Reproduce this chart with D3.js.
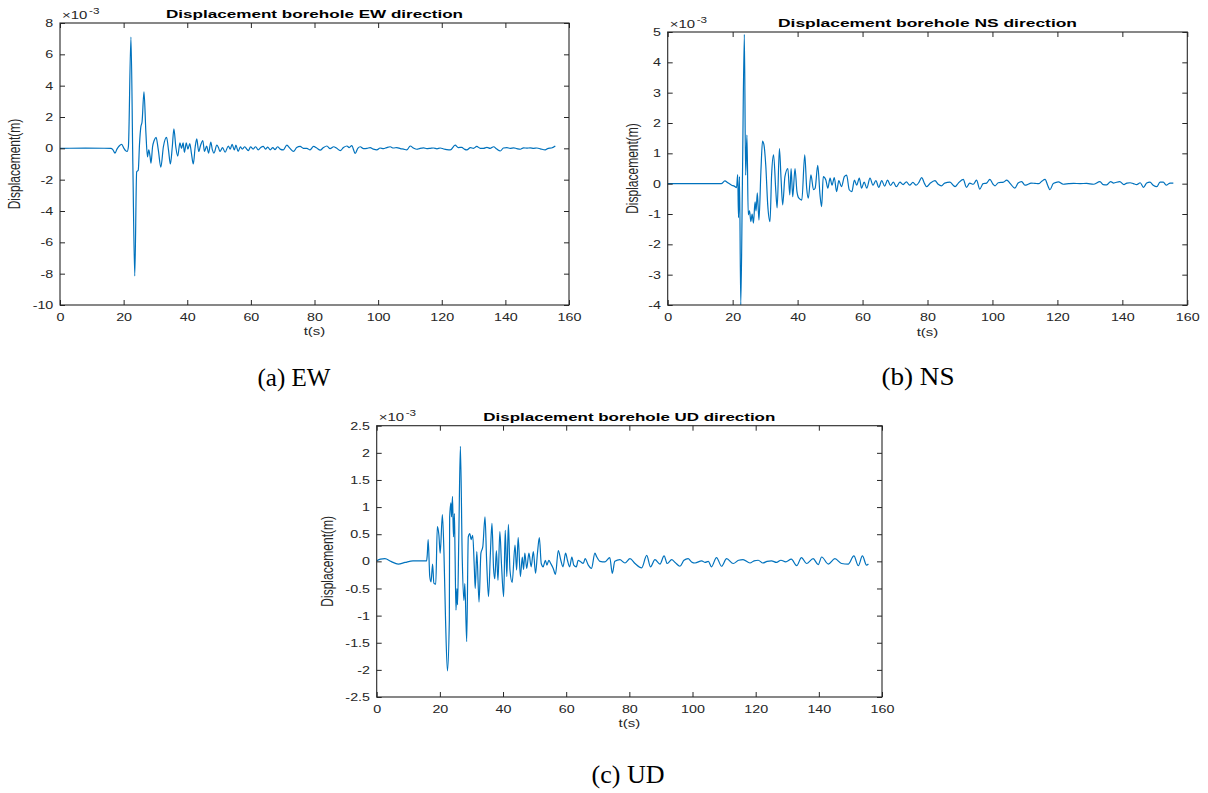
<!DOCTYPE html>
<html>
<head>
<meta charset="utf-8">
<script src="https://cdn.jsdelivr.net/npm/d3@7"></script>
<style>
  body { margin: 0; background: #fff; }
  svg { display: block; }
</style>
</head>
<body>
<svg id="fig" width="1208" height="793"></svg>
<script>
// each point: [t (s), displacement (x1e-3 m)]
var ewSeries = [
  [0,0],[8,0.01],[16,0],[16.6,-0.08],[17.3,-0.3],[17.9,-0.05],[18.6,0.15],[19.4,0.25],[20.1,0],[20.6,-0.15],
  [21.1,-0.2],[21.5,0.1],[22.3,7.1],[22.9,-1],[23.5,-8.15],[24.1,-1.5],[24.6,-1.4],[25.0,0.3],[25.4,1.35],[25.8,1.7],
  [26.4,3.6],[27.0,1.0],[27.5,-0.55],[27.9,-0.1],[28.3,-0.5],[28.6,-0.95],[29.1,0.1],[29.6,0.5],[30.2,0.7],[30.9,-0.1],
  [31.7,-1.2],[32.5,0.1],[33.5,0.7],[34.1,-0.1],[34.7,-1.0],[35.3,0.1],[35.8,1.25],[36.4,0.1],[37,-0.5],[37.7,0.35],
  [38.2,0],[38.7,0.35],[39.1,-0.25],[39.7,0.35],[40.2,-0.05],[40.8,0.3],[41.3,-0.3],[41.9,-1.0],[42.5,0.1],[43,0.6],
  [43.6,-0.2],[44.2,0.2],[44.9,0.5],[45.4,-0.2],[46.1,0.15],[46.7,-0.3],[47.4,0.4],[47.9,-0.1],[48.4,-0.3],[49.3,0.2],
  [49.8,0.05],[50.3,-0.2],[51.1,0.05],[51.9,-0.25],[52.9,0.15],[53.5,-0.05],[54.1,0.25],[54.8,-0.1],[55.3,0.2],[56,-0.2],
  [56.7,0.1],[57.3,-0.05],[58.1,0.1],[58.7,-0.05],[59.2,-0.15],[59.9,0.1],[60.7,-0.05],[61.5,0.1],[62.3,-0.1],[63.1,0.05],
  [63.9,0.12],[64.6,-0.05],[65.3,0.08],[66.1,-0.1],[66.9,0.05],[67.6,-0.08],[68.4,0.1],[69.2,-0.05],[70.2,-0.1],[71.3,0.2],
  [72.3,0.0],[73.4,-0.2],[74.4,0.05],[75.5,0.12],[76.5,0],[77.6,0],[78.6,-0.1],[79.7,0.12],[80.7,0.02],[81.8,-0.12],
  [82.8,0.05],[83.9,0.15],[84.9,-0.02],[86,0.1],[87,0],[88.1,-0.15],[89.1,0.05],[90.2,0.15],[90.9,0.05],[91.7,0.17],
  [92.8,-0.32],[93.6,0],[94.4,0.1],[95.4,-0.02],[96.5,0],[97.5,0.05],[98.5,-0.05],[99.6,-0.1],[100.6,0.02],[101.7,-0.02],
  [102.7,0.05],[103.8,0.1],[104.8,0.02],[105.9,0.05],[107,-0.02],[108,-0.05],[109,-0.1],[110.1,0.15],[111.1,0.02],[112.2,-0.06],
  [113.2,0],[114.3,0.03],[115.3,-0.02],[116.4,0],[117.4,0.02],[118.5,-0.03],[119.5,0.02],[120.6,-0.04],[121.6,-0.08],[122.7,-0.1],
  [124.2,0.2],[125.2,0.05],[126.3,0.06],[127.1,-0.05],[127.9,-0.1],[129,0.05],[130,0],[131,0.12],[132.1,0],[133.1,0],
  [134.2,0.06],[135.2,0],[136.3,0.1],[137.3,-0.05],[138.4,-0.17],[139.4,0.02],[140.5,0.05],[141.5,0],[142.6,0.03],[143.6,-0.02],
  [144.7,-0.06],[145.7,0.03],[146.8,0.01],[147.8,0.03],[148.9,0],[149.9,0.02],[151,-0.03],[152.5,-0.1],[153.5,0],[154.5,0.02],
  [155.7,0.15]
];
var nsSeries = [
  [0,0],[10,0],[16.5,0],[17.6,0.09],[18.5,0.03],[19.7,-0.05],[20.5,-0.08],[21.2,-0.13],[21.55,0.3],[21.8,-1.12],
  [22.1,0.23],[22.5,-4.0],[23.0,0],[23.6,4.92],[24.0,0.28],[24.4,1.6],[24.8,-1.03],[25.2,-0.9],[25.6,-1.25],[26.0,-1.0],
  [26.4,-1.3],[26.9,-0.6],[27.2,-0.9],[27.6,-0.3],[28.1,-1.2],[28.7,0.4],[29.2,1.4],[29.6,1.3],[30.2,0.6],[30.8,-0.7],
  [31.5,-1.25],[32,0.3],[32.6,0.95],[33.3,-0.26],[33.7,-0.8],[34.4,1.16],[34.9,0.18],[35.4,-0.7],[36.1,0.23],[37,0.5],
  [37.6,-0.37],[38,0.5],[38.5,-0.43],[39.2,0.5],[39.8,-0.26],[40.4,-0.48],[41.3,-0.54],[42.2,0.95],[42.8,-0.15],[43.3,-0.48],
  [44.1,0.29],[44.9,-0.2],[45.4,-0.15],[46.2,0.6],[46.9,-0.37],[47.4,-0.76],[47.9,0.23],[48.7,0.12],[49.3,-0.15],[50,0.18],
  [50.6,-0.05],[51.3,0.2],[52,-0.26],[52.7,0.1],[53.5,-0.1],[54.4,0.23],[55.1,0.28],[55.9,-0.2],[56.7,-0.26],[57.5,0.12],
  [58.2,-0.05],[59,0.18],[59.7,-0.15],[60.5,0.05],[61.3,-0.15],[62.3,0.18],[63.2,-0.05],[64.1,0.1],[65,-0.12],[65.9,0.1],
  [66.8,-0.08],[67.7,0.12],[68.6,-0.06],[69.5,0.05],[70.4,-0.1],[71.5,0.05],[72.5,-0.03],[73.5,0.06],[74.5,-0.05],[75.5,0.04],
  [76.5,-0.05],[77.4,0.05],[78.2,0.2],[79.1,0],[79.7,-0.1],[80.7,0.0],[82.3,0.1],[83.3,-0.02],[84.3,-0.07],[85.3,0.02],
  [86.9,0.05],[87.9,-0.05],[88.5,-0.1],[89.5,0.02],[91,0.14],[92,-0.12],[93,0.02],[94.1,-0.02],[95.1,0.12],[96.1,-0.18],
  [97.1,0],[98.2,0.02],[99.2,0.14],[100.2,-0.02],[100.8,-0.07],[101.8,0.03],[103.4,0.05],[104.4,0.12],[105.5,0],[106.9,-0.15],
  [107.9,0.02],[109,0.07],[110,-0.05],[110.6,-0.04],[111.9,0.02],[113.1,0.01],[114.2,0],[115.2,0.08],[116.2,0.14],[117,-0.05],
  [117.7,-0.2],[118.7,0],[119.3,0.03],[120.3,0.06],[121.8,-0.02],[123.5,0],[125,0.01],[127,0],[129,0.01],[131.1,-0.02],
  [133.1,0.07],[134.1,-0.03],[135.2,-0.04],[136.4,0.07],[137.3,0.02],[139.2,0.07],[140.5,-0.03],[141.4,0.02],[142.4,0.03],[143.4,0.0],
  [144.4,-0.03],[145.5,0.03],[146.5,-0.12],[147.5,0.02],[148.5,0.05],[149.5,-0.05],[150.6,-0.1],[151.6,0.05],[152.6,0.05],[153.5,-0.05],
  [154.7,0.02],[155.7,0.02]
];
var udSeries = [
  [0,0.01],[1.2,0.04],[2.6,0.05],[4.5,0.0],[6.8,-0.05],[9,-0.02],[11.5,0.01],[15.8,0.01],[16.0,0.11],[16.3,0.4],
  [16.8,-0.28],[17.2,-0.38],[17.7,-0.05],[18.1,-0.4],[18.7,-0.42],[19.2,0.64],[19.7,0.48],[20.1,0.15],[20.8,0.86],[21.3,0.15],
  [21.8,-1.08],[22.4,-2.02],[23,-1.08],[23.1,0.81],[23.5,1.08],[23.7,0.82],[24.0,1.2],[24.3,0.45],[24.6,0.88],[24.8,0.18],
  [25.1,-0.9],[25.4,-0.5],[25.6,-0.8],[26,0.45],[26.5,2.12],[27.1,0.02],[27.6,-0.72],[27.9,-0.41],[28.5,-1.48],[29,0.45],
  [29.5,0.51],[29.9,0.4],[30.4,0.48],[30.9,-0.1],[31.2,-0.5],[31.7,0.18],[32.4,-0.75],[33,0.15],[33.6,0.27],[34.3,0.82],
  [34.8,0.02],[35.4,-0.65],[36,0.15],[36.5,0.7],[37,-0.13],[37.4,-0.32],[37.9,0.2],[38.4,-0.35],[39,0.55],[39.5,-0.04],
  [40.2,-0.65],[40.7,0.57],[41.2,-0.28],[41.7,0.68],[42.2,-0.16],[42.9,-0.39],[43.8,0.3],[44.3,-0.16],[44.8,0.44],[45.5,-0.28],
  [46.1,0.08],[46.5,-0.15],[46.9,0.15],[47.5,-0.13],[48.2,0.15],[48.9,-0.1],[49.6,0.18],[50.3,-0.22],[50.9,0.15],[51.5,0.44],
  [52.1,-0.04],[52.7,-0.1],[53.4,0.02],[53.9,-0.07],[54.5,0.02],[55.1,-0.04],[55.9,-0.13],[56.6,-0.24],[57.5,0.2],[58.3,0.02],
  [59,-0.1],[59.8,0.15],[60.4,0.02],[61.1,-0.1],[61.8,0.08],[62.4,-0.07],[63.2,-0.1],[63.8,0.02],[64.4,0],[65.4,-0.04],
  [66,0.05],[67,-0.07],[68,-0.13],[69.1,0.15],[69.6,0.09],[70.7,0],[72.3,-0.01],[73.8,0.07],[74.6,-0.22],[75.4,0],
  [77,0.03],[78.6,-0.03],[80.2,0.05],[81.8,-0.04],[83.9,-0.12],[85.5,0.11],[86.7,-0.1],[88.1,0.03],[89.7,-0.05],[91,0.1],
  [92,-0.04],[93.4,0.03],[94.5,-0.02],[96,-0.09],[97.3,0.02],[98.6,0.05],[99.7,-0.01],[100.8,-0.03],[102.9,0.01],[104,-0.02],
  [105,0],[106,-0.1],[107.6,0.07],[109.2,-0.09],[110.8,0.05],[112.9,-0.04],[114.6,0.02],[116,0.03],[118.2,-0.03],[119.5,0.01],
  [120.8,0.02],[122.3,-0.03],[123.6,0],[125,0.01],[126.6,-0.02],[128,0.02],[129.5,-0.01],[131.3,0.04],[133,-0.08],[134.5,0.07],
  [136.1,-0.04],[138.2,0.05],[139.8,-0.06],[140.9,0.08],[143,-0.05],[145.1,0.05],[147.2,-0.04],[149.3,-0.05],[151.1,0.1],[152.5,-0.08],
  [153.8,0.1],[155.1,-0.07],[155.7,-0.05]
];

var xTicks = [0, 20, 40, 60, 80, 100, 120, 140, 160];
var ewTicks = [-10, -8, -6, -4, -2, 0, 2, 4, 6, 8];
var nsTicks = [-4, -3, -2, -1, 0, 1, 2, 3, 4, 5];
var udTicks = [-2.5, -2, -1.5, -1, -0.5, 0, 0.5, 1, 1.5, 2, 2.5];

var panels = [
  { key: "ew", series: ewSeries, yTicks: ewTicks, yDomain: [-10, 8],
    title: "Displacement borehole EW direction", caption: "(a) EW",
    x0: 60, x1: 569, y0: 23, y1: 305, titleW: 297, ylabX: 15, xlabY: 335, capX: 294, capY: 386 },
  { key: "ns", series: nsSeries, yTicks: nsTicks, yDomain: [-4, 5],
    title: "Displacement borehole NS direction", caption: "(b) NS",
    x0: 667.7, x1: 1187.3, y0: 32, y1: 305, titleW: 299, ylabX: 633, xlabY: 336, capX: 918, capY: 385 },
  { key: "ud", series: udSeries, yTicks: udTicks, yDomain: [-2.5, 2.5],
    title: "Displacement borehole UD direction", caption: "(c) UD",
    x0: 376.7, x1: 882, y0: 425.7, y1: 697, titleW: 292, ylabX: 328, xlabY: 727, capX: 628, capY: 783 }
];

var FONT = "'Liberation Sans', Arial, Helvetica, sans-serif";
var SX = 1.3;          // glyphs in the figure are stretched horizontally
var AXIS = "#262626";
var LINE = "#0072BD";

var svg = d3.select("#fig");

function styleTicks(sel, anchorX) {
  sel.select(".domain").remove();
  sel.attr("color", AXIS);
  sel.selectAll(".tick line").attr("stroke-width", 1);
  sel.selectAll("text")
    .attr("font-family", FONT)
    .attr("font-size", 11)
    .attr("fill", AXIS)
    .attr("transform", "scale(" + SX + ",1)");
  if (anchorX != null) sel.selectAll("text").attr("x", anchorX / SX);
}

panels.forEach(function(p) {
  var x = d3.scaleLinear().domain([0, 160]).range([p.x0, p.x1]);
  var y = d3.scaleLinear().domain(p.yDomain).range([p.y1, p.y0]);
  var g = svg.append("g").attr("class", "panel-" + p.key);

  svg.append("clipPath").attr("id", "clip-" + p.key)
    .append("rect")
      .attr("x", p.x0).attr("y", p.y0)
      .attr("width", p.x1 - p.x0).attr("height", p.y1 - p.y0);

  var line = d3.line()
    .curve(d3.curveMonotoneX)
    .x(function(d) { return x(d[0]); })
    .y(function(d) { return y(d[1]); });

  g.append("path")
    .datum(p.series)
    .attr("clip-path", "url(#clip-" + p.key + ")")
    .attr("fill", "none")
    .attr("stroke", LINE)
    .attr("stroke-width", 1.2)
    .attr("stroke-linejoin", "round")
    .attr("d", line);

  // axes, ticks pointing inward on all four sides
  g.append("g").attr("transform", "translate(0," + p.y1 + ")")
    .call(d3.axisBottom(x).tickValues(xTicks).tickSizeInner(-5).tickSizeOuter(0).tickPadding(8))
    .call(styleTicks, null);
  g.append("g").attr("transform", "translate(0," + p.y0 + ")")
    .call(d3.axisTop(x).tickValues(xTicks).tickSizeInner(-5).tickSizeOuter(0).tickFormat(""))
    .call(styleTicks, null);
  g.append("g").attr("transform", "translate(" + p.x0 + ",0)")
    .call(d3.axisLeft(y).tickValues(p.yTicks).tickSizeInner(-5).tickSizeOuter(0)
      .tickFormat(function(d) { return String(d); }))
    .call(styleTicks, -6.7);
  g.append("g").attr("transform", "translate(" + p.x1 + ",0)")
    .call(d3.axisRight(y).tickValues(p.yTicks).tickSizeInner(-5).tickSizeOuter(0).tickFormat(""))
    .call(styleTicks, null);

  g.append("rect")
    .attr("x", p.x0).attr("y", p.y0)
    .attr("width", p.x1 - p.x0).attr("height", p.y1 - p.y0)
    .attr("fill", "none").attr("stroke", AXIS).attr("stroke-width", 1.1);

  // exponent label
  g.append("text")
    .attr("transform", "translate(" + (p.x0 + 2) + "," + (p.y0 - 4.5) + ") scale(" + SX + ",1)")
    .attr("font-family", FONT).attr("font-size", 11.5).attr("fill", AXIS)
    .text("\u00d710");
  g.append("text")
    .attr("transform", "translate(" + (p.x0 + 29) + "," + (p.y0 - 9.5) + ") scale(" + SX + ",1)")
    .attr("font-family", FONT).attr("font-size", 9).attr("fill", AXIS)
    .text("-3");

  // title
  g.append("text")
    .attr("x", (p.x0 + p.x1) / 2).attr("y", p.y0 - 5)
    .attr("text-anchor", "middle")
    .attr("font-family", FONT).attr("font-size", 11.5).attr("font-weight", "bold")
    .attr("fill", "#000")
    .attr("textLength", p.titleW).attr("lengthAdjust", "spacingAndGlyphs")
    .text(p.title);

  // axis labels
  g.append("text")
    .attr("transform", "translate(" + ((p.x0 + p.x1) / 2) + "," + p.xlabY + ") scale(" + SX + ",1)")
    .attr("text-anchor", "middle")
    .attr("font-family", FONT).attr("font-size", 11.5).attr("fill", AXIS)
    .text("t(s)");
  g.append("text")
    .attr("transform", "translate(" + p.ylabX + "," + ((p.y0 + p.y1) / 2) + ") scale(" + SX + ",1) rotate(-90)")
    .attr("text-anchor", "middle").attr("dy", "0.35em")
    .attr("font-family", FONT).attr("font-size", 12).attr("fill", AXIS)
    .text("Displacement(m)");

  // sub-figure caption
  svg.append("text")
    .attr("x", p.capX).attr("y", p.capY)
    .attr("text-anchor", "middle")
    .attr("font-family", "'Liberation Serif', 'DejaVu Serif', serif")
    .attr("font-size", 25).attr("fill", "#000")
    .attr("textLength", 73).attr("lengthAdjust", "spacingAndGlyphs")
    .text(p.caption);
});
</script>
</body>
</html>
